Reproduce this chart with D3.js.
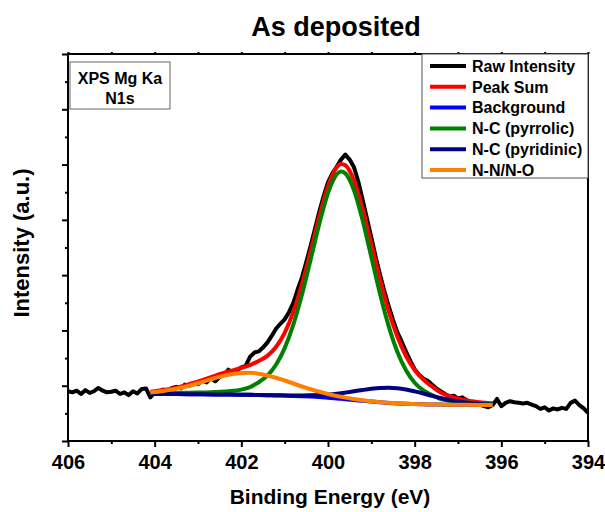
<!DOCTYPE html>
<html>
<head>
<meta charset="utf-8">
<script src="https://cdn.jsdelivr.net/npm/d3@7"></script>
<style>
  body { margin: 0; background: #fff; }
  text { font-family: Arial, "Liberation Sans", sans-serif; font-weight: bold; }
</style>
</head>
<body>
<div id="chart"></div>
<script>
// raw spectrum, 0.1 eV steps
const rawEnergy = [
  406.0, 405.9, 405.8, 405.7, 405.6, 405.5, 405.4, 405.3, 405.2, 405.1,
  405.0, 404.9, 404.8, 404.7, 404.6, 404.5, 404.4, 404.3, 404.2, 404.1,
  404.0, 403.9, 403.8, 403.7, 403.6, 403.5, 403.4, 403.3, 403.2, 403.1,
  403.0, 402.9, 402.8, 402.7, 402.6, 402.5, 402.4, 402.3, 402.2, 402.1,
  402.0, 401.9, 401.8, 401.7, 401.6, 401.5, 401.4, 401.3, 401.2, 401.1,
  401.0, 400.9, 400.8, 400.7, 400.6, 400.5, 400.4, 400.3, 400.2, 400.1,
  400.0, 399.9, 399.8, 399.7, 399.6, 399.5, 399.4, 399.3, 399.2, 399.1,
  399.0, 398.9, 398.8, 398.7, 398.6, 398.5, 398.4, 398.3, 398.2, 398.1,
  398.0, 397.9, 397.8, 397.7, 397.6, 397.5, 397.4, 397.3, 397.2, 397.1,
  397.0, 396.9, 396.8, 396.7, 396.6, 396.5, 396.4, 396.3, 396.2, 396.1,
  396.0, 395.9, 395.8, 395.7, 395.6, 395.5, 395.4, 395.3, 395.2, 395.1,
  395.0, 394.9, 394.8, 394.7, 394.6, 394.5, 394.4, 394.3, 394.2, 394.1,
  394.0
];
const rawIntensity = [
  9.0, 8.8, 9.1, 8.5, 9.2, 8.7, 9.0, 9.6, 9.1, 8.8,
  8.9, 9.1, 8.5, 8.8, 8.3, 9.0, 8.6, 9.4, 9.5, 7.9,
  8.8, 9.0, 9.3, 9.1, 9.6, 9.8, 9.5, 10.2, 10.0, 10.5,
  10.3, 10.9, 10.6, 11.4, 10.8, 11.6, 11.9, 12.9, 12.4, 12.8,
  13.3, 13.6, 15.2, 16.0, 16.2, 16.9, 17.8, 19.0, 20.3, 21.2,
  22.0, 23.3, 25.0, 27.4, 29.6, 32.4, 35.3, 38.4, 41.5, 44.3,
  46.8, 48.4, 49.6, 50.9, 51.8, 50.9, 49.5, 46.9, 43.6, 40.2,
  36.8, 33.3, 30.1, 27.1, 24.4, 21.9, 19.7, 18.0, 16.2, 14.5,
  13.0, 12.0, 11.3, 10.9, 10.2, 9.5, 9.0, 8.5, 8.1, 8.2,
  7.7, 7.9, 7.4, 7.0, 6.8, 6.6, 6.3, 6.1, 6.5, 7.6,
  6.3, 6.9, 7.2, 7.0, 6.9, 6.8, 6.9, 6.6, 6.3, 5.8,
  6.1, 5.5, 5.9, 5.7, 6.0, 5.8, 6.9, 7.3, 6.5, 5.9,
  5.1
];

// fitted curves
const fitEnergy = [
  404.1, 403.8, 403.5, 403.2, 402.9, 402.6, 402.3, 402.0, 401.8, 401.6,
  401.4, 401.2, 401.0, 400.8, 400.6, 400.4, 400.2, 400.0, 399.8, 399.7,
  399.6, 399.4, 399.2, 399.0, 398.8, 398.6, 398.4, 398.2, 398.0, 397.8,
  397.6, 397.4, 397.1, 396.8, 396.5, 396.2
];
const peakSum = [
  8.93, 9.23, 9.66, 10.27, 11.02, 11.82, 12.57, 13.22, 13.73, 14.48,
  15.40, 17.00, 19.57, 23.35, 28.38, 34.40, 40.64, 46.11, 49.52, 50.11,
  49.88, 47.10, 41.95, 35.63, 29.23, 23.53, 18.89, 15.37, 12.85, 11.10,
  9.87, 8.77, 7.88, 7.32, 7.00, 6.80
];
const background = [
  8.50, 8.50, 8.48, 8.46, 8.45, 8.43, 8.41, 8.37, 8.36, 8.32,
  8.28, 8.25, 8.21, 8.16, 8.10, 8.03, 7.94, 7.83, 7.70, 7.63,
  7.56, 7.42, 7.27, 7.13, 7.00, 6.89, 6.80, 6.73, 6.67, 6.64,
  6.60, 6.58, 6.57, 6.55, 6.53, 6.51
];
const pyrrolic = [
  8.65, 8.68, 8.70, 8.73, 8.78, 8.85, 8.99, 9.29, 9.76, 10.63,
  11.81, 13.79, 16.80, 21.04, 26.49, 32.84, 39.31, 44.86, 48.22, 48.74,
  48.41, 45.36, 39.89, 33.26, 26.62, 20.78, 16.15, 12.79, 10.54, 9.14,
  8.30, 7.58, 7.17, 6.95, 6.83, 6.73
];
const pyridinic = [
  8.50, 8.50, 8.48, 8.46, 8.45, 8.43, 8.41, 8.37, 8.36, 8.32,
  8.29, 8.27, 8.25, 8.23, 8.23, 8.26, 8.31, 8.41, 8.55, 8.64,
  8.75, 8.99, 9.23, 9.44, 9.58, 9.62, 9.53, 9.31, 8.98, 8.60,
  8.17, 7.77, 7.28, 6.92, 6.70, 6.58
];
const nnno = [
  8.78, 9.05, 9.44, 10.00, 10.69, 11.40, 11.99, 12.30, 12.33, 12.17,
  11.86, 11.44, 10.94, 10.40, 9.86, 9.36, 8.90, 8.50, 8.15, 7.99,
  7.84, 7.59, 7.37, 7.19, 7.03, 6.91, 6.81, 6.73, 6.67, 6.64,
  6.60, 6.58, 6.57, 6.55, 6.53, 6.51
];

const seriesNames = ["Raw Intensity", "Peak Sum", "Background", "N-C (pyrrolic)", "N-C (pyridinic)", "N-N/N-O"];
const seriesColors = ["#000000", "#ff0000", "#0000ff", "#008000", "#000080", "#ff8000"];

const xMajorTicks = [406, 404, 402, 400, 398, 396, 394];
const xMinorTicks = [405, 403, 401, 399, 397, 395];
const yMajorTicks = [0, 10, 20, 30, 40, 50, 60, 70];
const yMinorTicks = [5, 15, 25, 35, 45, 55, 65];
const annotationLines = ["XPS Mg Ka", "N1s"];

const W = 605, H = 512;
const margin = {top: 54, right: 17, bottom: 71, left: 68};
const plotW = W - margin.left - margin.right;
const plotH = H - margin.top - margin.bottom;

const svg = d3.select("#chart").append("svg")
  .attr("width", W)
  .attr("height", H);

const g = svg.append("g")
  .attr("transform", `translate(${margin.left},${margin.top})`);

const xScale = d3.scaleLinear().domain([406, 394]).range([0, plotW]);
const yScale = d3.scaleLinear().domain([0, 70]).range([plotH, 0]);

// clip so nothing leaks past the frame
g.append("clipPath").attr("id", "clip")
  .append("rect").attr("width", plotW).attr("height", plotH);

const plot = g.append("g").attr("clip-path", "url(#clip)");

const rawLine = d3.line()
  .x((d, i) => xScale(rawEnergy[i]))
  .y(d => yScale(d));

const fitLine = d3.line()
  .x((d, i) => xScale(fitEnergy[i]))
  .y(d => yScale(d))
  .curve(d3.curveMonotoneX);

plot.append("path")
  .datum(rawIntensity)
  .attr("fill", "none")
  .attr("stroke", seriesColors[0])
  .attr("stroke-width", 4)
  .attr("stroke-linejoin", "round")
  .attr("d", rawLine);

const fits = [peakSum, background, pyrrolic, pyridinic, nnno];
fits.forEach((s, k) => {
  plot.append("path")
    .datum(s)
    .attr("fill", "none")
    .attr("stroke", seriesColors[k + 1])
    .attr("stroke-width", 4)
    .attr("stroke-linejoin", "round")
    .attr("d", fitLine);
});

// axes
const xAxisG = g.append("g").attr("transform", `translate(0,${plotH})`);
xAxisG.call(d3.axisBottom(xScale).tickValues(xMajorTicks).tickSize(6).tickFormat(d3.format("d")));
xAxisG.append("g").call(d3.axisBottom(xScale).tickValues(xMinorTicks).tickSize(3).tickFormat(""));
xAxisG.selectAll("text")
  .attr("font-size", 20)
  .attr("fill", "#000")
  .attr("dy", "0.95em");

const topG = g.append("g");
topG.call(d3.axisTop(xScale).tickValues(xMajorTicks.concat(xMinorTicks)).tickSize(2).tickFormat(""));

const yAxisG = g.append("g");
yAxisG.call(d3.axisLeft(yScale).tickValues(yMajorTicks).tickSize(6).tickFormat(""));
yAxisG.append("g").call(d3.axisLeft(yScale).tickValues(yMinorTicks).tickSize(3).tickFormat(""));

g.selectAll(".domain").remove();
g.selectAll(".tick line").attr("stroke", "#000").attr("stroke-width", 2);

g.append("rect")
  .attr("width", plotW)
  .attr("height", plotH)
  .attr("fill", "none")
  .attr("stroke", "#000")
  .attr("stroke-width", 2);

// annotation box
const ann = g.append("g").attr("transform", "translate(2,8)");
ann.append("rect")
  .attr("width", 100).attr("height", 47)
  .attr("fill", "#fff").attr("stroke", "#666").attr("stroke-width", 1);
ann.selectAll("text")
  .data(annotationLines)
  .join("text")
  .attr("x", 50)
  .attr("y", (d, i) => 22 + i * 20)
  .attr("text-anchor", "middle")
  .attr("font-size", 16)
  .text(d => d);

// legend
const leg = g.append("g").attr("transform", `translate(${422 - margin.left},0)`);
leg.append("rect")
  .attr("width", 166).attr("height", 124)
  .attr("fill", "#fff").attr("stroke", "#555").attr("stroke-width", 1);
const rows = leg.selectAll(".row")
  .data(seriesNames)
  .join("g")
  .attr("class", "row")
  .attr("transform", (d, i) => `translate(0,${12 + i * 20.8})`);
rows.append("line")
  .attr("x1", 8).attr("x2", 44)
  .attr("stroke", (d, i) => seriesColors[i])
  .attr("stroke-width", 4);
rows.append("text")
  .attr("x", 50)
  .attr("dy", "0.36em")
  .attr("font-size", 16)
  .text(d => d);

// titles
svg.append("text")
  .attr("x", 336).attr("y", 36)
  .attr("text-anchor", "middle")
  .attr("font-size", 27)
  .text("As deposited");

svg.append("text")
  .attr("x", 330).attr("y", 504)
  .attr("text-anchor", "middle")
  .attr("font-size", 21)
  .text("Binding Energy (eV)");

svg.append("text")
  .attr("transform", "translate(29,243) rotate(-90)")
  .attr("text-anchor", "middle")
  .attr("font-size", 22)
  .text("Intensity (a.u.)");
</script>
</body>
</html>
